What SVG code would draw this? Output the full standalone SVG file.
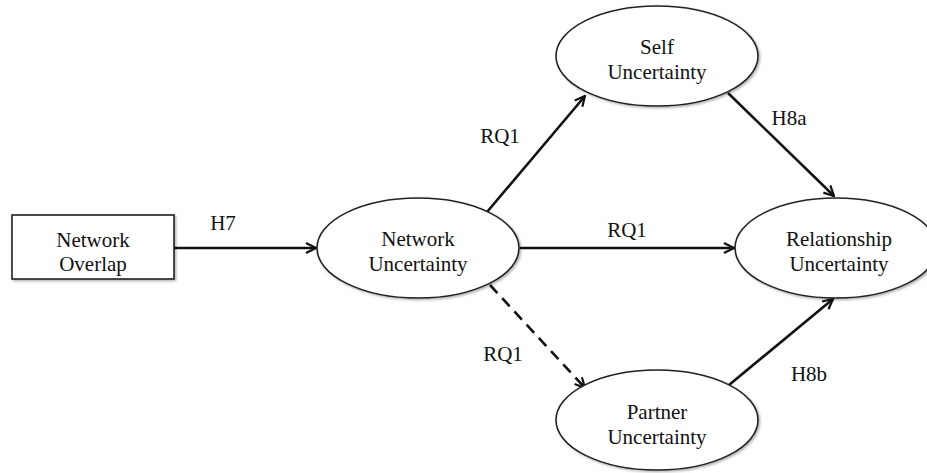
<svg xmlns="http://www.w3.org/2000/svg" width="927" height="473" viewBox="0 0 927 473">
<style>
.node{fill:#fff;stroke:#222;stroke-width:1.6}
.t{font-family:"Liberation Serif","Times New Roman",serif;font-size:21px;fill:#111;text-anchor:middle}
.c{stroke:#111;stroke-width:2.6;fill:none}
.d{stroke-dasharray:11 7}
</style>
<defs>
<marker id="arr" viewBox="0 0 12 12" refX="11" refY="6" markerWidth="12" markerHeight="12" markerUnits="userSpaceOnUse" orient="auto">
<path d="M1,1 L11,6 L1,11" fill="none" stroke="#111" stroke-width="2.2"/>
</marker>
<filter id="sh" x="-10%" y="-10%" width="130%" height="130%">
<feDropShadow dx="1.5" dy="1.5" stdDeviation="1.2" flood-color="#000" flood-opacity="0.3"/>
</filter>
</defs>
<rect width="927" height="473" fill="#fff"/>
<g id="connectors">
<line class="c" x1="174" y1="248" x2="316" y2="248" marker-end="url(#arr)"/>
<line class="c" x1="487" y1="212" x2="585" y2="96" marker-end="url(#arr)"/>
<line class="c" x1="520" y1="248" x2="734" y2="248" marker-end="url(#arr)"/>
<line class="c" x1="728" y1="93" x2="834" y2="196" marker-end="url(#arr)"/>
<line class="c d" x1="490" y1="285" x2="585" y2="388" marker-end="url(#arr)"/>
<line class="c" x1="729" y1="385" x2="833" y2="299" marker-end="url(#arr)"/>
<text class="t" x="223" y="230">H7</text>
<text class="t" x="500" y="143">RQ1</text>
<text class="t" x="627" y="237">RQ1</text>
<text class="t" x="503" y="361">RQ1</text>
<text class="t" x="789" y="125">H8a</text>
<text class="t" x="809" y="381">H8b</text>
</g>
<g id="network-overlap">
<rect class="node" x="12" y="215" width="162" height="64" filter="url(#sh)"/>
<text class="t" x="93" y="247">Network</text>
<text class="t" x="93" y="271">Overlap</text>
</g>
<g id="network-uncertainty">
<ellipse class="node" cx="418" cy="248" rx="101" ry="50" filter="url(#sh)"/>
<text class="t" x="418" y="246">Network</text>
<text class="t" x="418" y="271">Uncertainty</text>
</g>
<g id="self-uncertainty">
<ellipse class="node" cx="657" cy="56" rx="101" ry="50" filter="url(#sh)"/>
<text class="t" x="657" y="54">Self</text>
<text class="t" x="657" y="79">Uncertainty</text>
</g>
<g id="relationship-uncertainty">
<ellipse class="node" cx="836" cy="248" rx="101" ry="50" filter="url(#sh)"/>
<text class="t" x="839" y="246">Relationship</text>
<text class="t" x="839" y="271">Uncertainty</text>
</g>
<g id="partner-uncertainty">
<ellipse class="node" cx="657" cy="420" rx="101" ry="50" filter="url(#sh)"/>
<text class="t" x="657" y="419">Partner</text>
<text class="t" x="657" y="444">Uncertainty</text>
</g>
</svg>
